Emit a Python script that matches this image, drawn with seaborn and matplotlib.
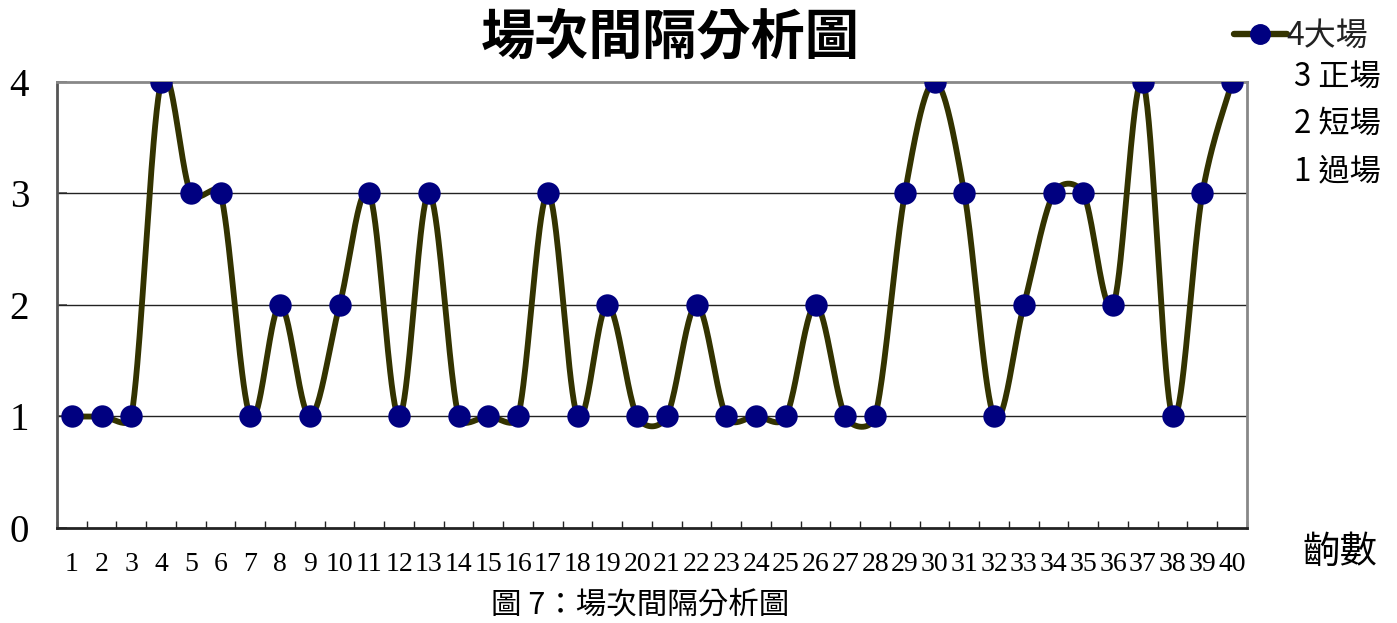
import numpy as np
import pandas as pd
import matplotlib
matplotlib.use("Agg")
import matplotlib.pyplot as plt
from matplotlib.lines import Line2D
from matplotlib.ticker import FixedLocator
import seaborn as sns

# scene order and scene type (4 大場, 3 正場, 2 短場, 1 過場)
scenes = list(range(1, 41))
scene_type = [1, 1, 1, 4, 3, 3, 1, 2, 1, 2,
              3, 1, 3, 1, 1, 1, 3, 1, 2, 1,
              1, 2, 1, 1, 1, 2, 1, 1, 3, 4,
              3, 1, 2, 3, 3, 2, 4, 1, 3, 4]
y_ticks = [0, 1, 2, 3, 4]
legend_labels = ["4大場", "3 正場", "2 短場", "1 過場"]
title_text = "場次間隔分析圖"
caption_text = "圖 7：場次間隔分析圖"
x_label = "齣數"

LINE_COLOR = "#333300"
MARKER_COLOR = "#000080"
CJK = ["Noto Sans CJK TC", "DejaVu Sans"]
SERIF = ["Liberation Serif", "DejaVu Serif"]

FIG_W, FIG_H = 13.97, 6.23
AX_RECT = [0.0408, 0.1525, 0.8518, 0.7159]
X_LIM = (0.5, 40.5)
Y_LIM = (0, 4)


def smooth_curve(xs, ys, sx, sy, steps=40):
    """Bezier smoothing through every point; control arms are 1/6 of the
    neighbour chord, limited to half of the segment length (screen units)."""
    P = np.column_stack([np.asarray(xs, float) * sx, np.asarray(ys, float) * sy])
    n = len(P)
    t = np.linspace(0, 1, steps, endpoint=False)[:, None]
    pts = []
    for i in range(n - 1):
        p0, p3 = P[i], P[i + 1]
        pm, pn = P[max(i - 1, 0)], P[min(i + 2, n - 1)]
        seg = np.linalg.norm(p3 - p0)
        d_a = np.linalg.norm(p3 - pm)
        d_b = np.linalg.norm(pn - p0)
        fa = min(1 / 6, 0.5 * seg / d_a) if d_a > 0 else 0
        fb = min(1 / 6, 0.5 * seg / d_b) if d_b > 0 else 0
        c1 = p0 + (p3 - pm) * fa
        c2 = p3 - (pn - p0) * fb
        b = (1 - t) ** 3 * p0 + 3 * (1 - t) ** 2 * t * c1 \
            + 3 * (1 - t) * t ** 2 * c2 + t ** 3 * p3
        pts.append(b)
    pts.append(P[-1:])
    pts = np.vstack(pts)
    return pts[:, 0] / sx, pts[:, 1] / sy


sns.set_theme(style="white")
plt.rcParams["font.family"] = CJK
plt.rcParams["text.color"] = "black"

fig = plt.figure(figsize=(FIG_W, FIG_H), dpi=100)
ax = fig.add_axes(AX_RECT)

# pixel size of one data unit on each axis, for the smoothing
px_x = FIG_W * 100 * AX_RECT[2] / (X_LIM[1] - X_LIM[0])
px_y = FIG_H * 100 * AX_RECT[3] / (Y_LIM[1] - Y_LIM[0])

points = pd.DataFrame({"scene": scenes, "type": scene_type})
cx, cy = smooth_curve(points["scene"], points["type"], px_x, px_y)
curve = pd.DataFrame({"x": cx, "y": cy})

sns.lineplot(data=curve, x="x", y="y", sort=False, ax=ax, color=LINE_COLOR,
             linewidth=4.2, zorder=3, legend=False)
sns.scatterplot(data=points, x="scene", y="type", ax=ax, color=MARKER_COLOR,
                s=260, linewidth=0, zorder=4, legend=False)

ax.set_xlim(*X_LIM)
ax.set_ylim(*Y_LIM)
ax.set_xlabel("")
ax.set_ylabel("")

# grid lines at the inner integer levels
for level in y_ticks[1:-1]:
    ax.axhline(level, color="#222222", linewidth=1.0, zorder=1)

ax.set_yticks(y_ticks)
ax.set_yticklabels([str(v) for v in y_ticks], family=SERIF, fontsize=28,
                   color="black")
ax.tick_params(axis="y", direction="in", length=7, width=1.2,
               color="#555555", pad=20, left=True)

ax.set_xticks(scenes)
ax.set_xticklabels([str(s) for s in scenes], family=SERIF, fontsize=20,
                   color="black")
ax.tick_params(axis="x", which="major", length=0, pad=17)
ax.xaxis.set_minor_locator(FixedLocator(np.arange(0.5, 41, 1.0)))
ax.tick_params(axis="x", which="minor", direction="in", length=5,
               width=1.0, color="#222222", bottom=True)

for side, col, lw in [("left", "#555555", 2.0), ("bottom", "#222222", 2.0),
                      ("top", "#888888", 2.0), ("right", "#888888", 2.0)]:
    ax.spines[side].set_visible(True)
    ax.spines[side].set_color(col)
    ax.spines[side].set_linewidth(lw)

fig.text(670 / 1397, 1 - 38 / 623, title_text, ha="center", va="center",
         fontsize=39, fontweight="bold", family=CJK, color="black")

handle = Line2D([], [], color=LINE_COLOR, linewidth=4.6, marker="o",
                markersize=14, markerfacecolor=MARKER_COLOR,
                markeredgecolor=MARKER_COLOR)
leg = fig.legend([handle], [legend_labels[0]], loc="center left",
                 bbox_to_anchor=(1234 / 1397, 1 - 36 / 623), frameon=False,
                 handlelength=1.65, handletextpad=0.0, borderpad=0,
                 borderaxespad=0, prop={"family": CJK, "size": 23})
for txt in leg.get_texts():
    txt.set_color("#222222")

for label, ypix in zip(legend_labels[1:], [77, 124, 171]):
    fig.text(1294 / 1397, 1 - ypix / 623, label, ha="left", va="center",
             fontsize=22.5, family=CJK, color="black")

fig.text(1340 / 1397, 1 - 552 / 623, x_label, ha="center", va="center",
         fontsize=27, family=CJK, color="black")
fig.text(640 / 1397, 1 - 605 / 623, caption_text, ha="center", va="center",
         fontsize=22, family=CJK, color="black")

fig.savefig("out.png", dpi=100, facecolor="white")
